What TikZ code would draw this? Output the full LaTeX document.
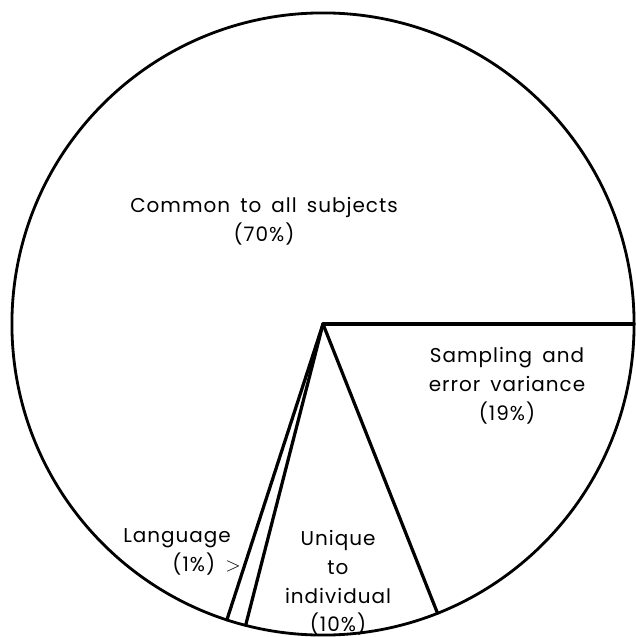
\documentclass[tikz,border=0pt]{standalone}
\usepackage{fontspec}
\setmainfont[LetterSpace=5, WordSpace=1.6]{Poppins}
\usetikzlibrary{calc}
\tikzstyle{rim} = [line width=2pt]
\tikzstyle{cut} = [line width=2.3pt, line cap=round]
\tikzstyle{label} = [align=center, font=\fontsize{14.2}{20.5}\selectfont, inner sep=0pt]

\begin{document}
\begin{tikzpicture}[x=0.025cm, y=-0.025cm]

        % Frame of the page
        \useasboundingbox (0,0) rectangle (636,637);

        % Circle and its centre
        \coordinate (centre) at (323,324);
        \draw [rim] (centre) circle [radius=7.775cm];

        % Ends of the slices on the rim
        \coordinate (sampEnd) at ($(centre)+(0:7.775cm)$);
        \coordinate (uniqEnd) at ($(centre)+(-68.4:7.775cm)$);
        \coordinate (langEnd) at ($(centre)+(-104.4:7.775cm)$);
        \coordinate (commEnd) at ($(centre)+(-108:7.775cm)$);

        % Slice borders
        \draw [cut] (centre) -- (sampEnd);
        \draw [cut] (centre) -- (uniqEnd);
        \draw [cut] (centre) -- (langEnd);
        \draw [cut] (centre) -- (commEnd);

        % Labels of the slices
        \node (common) [label] at (264,221) {Common to all subjects\\(70\%)};
        \node (sampling) [label] at (507,386) {Sampling and\\error variance\\(19\%)};
        \node (language) [label, align=right] at (182,552) {Language\hspace*{7pt}\\(1\%) $>$};
        \node (unique) [label] at (338,583) {Unique\\to\\individual\\(10\%)};

    \end{tikzpicture}
\end{document}
